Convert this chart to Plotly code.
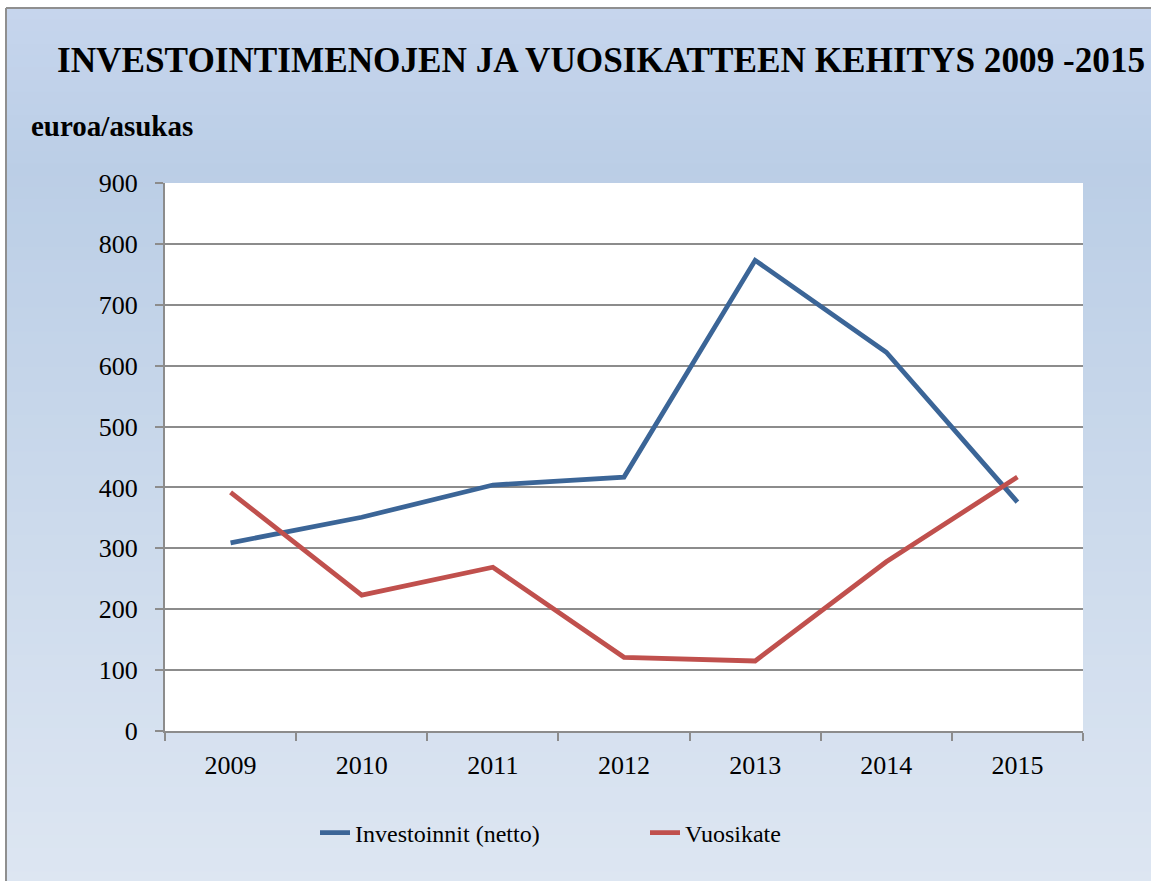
import plotly.graph_objects as go

years = ["2009", "2010", "2011", "2012", "2013", "2014", "2015"]
investoinnit = [309, 351, 404, 417, 773, 622, 376]
vuosikate = [392, 223, 269, 121, 115, 278, 417]
y_ticks = [0, 100, 200, 300, 400, 500, 600, 700, 800, 900]

W, H = 1151, 881
L, R, T, B = 165, 1083, 183, 731  # plot area px

def px_x(x):
    return (x - L) / (R - L)

def px_y(y):
    return (B - y) / (B - T)

def lerp(c1, c2, t):
    return tuple(round(a + (b - a) * t) for a, b in zip(c1, c2))

stops = [(8, (198, 213, 237)), (170, (187, 206, 230)), (881, (221, 230, 242))]

def color_at(y):
    for (y0, c0), (y1, c1) in zip(stops[:-1], stops[1:]):
        if y0 <= y <= y1:
            return lerp(c0, c1, (y - y0) / (y1 - y0))
    return stops[-1][1]

shapes = []
band = 12
y = 8
while y < H:
    y2 = min(y + band, H)
    c = color_at((y + y2) / 2)
    shapes.append(dict(type="rect", xref="paper", yref="paper",
                       x0=px_x(7), x1=px_x(W + 2), y0=px_y(y - 0.5), y1=px_y(y2 + 0.5),
                       fillcolor="rgb(%d,%d,%d)" % c, line=dict(width=0), layer="below"))
    y = y2
# white plot area
shapes.append(dict(type="rect", xref="paper", yref="paper", x0=0, x1=1, y0=0, y1=1,
                   fillcolor="white", line=dict(width=0), layer="below"))
# outer border
shapes.append(dict(type="line", xref="paper", yref="paper", x0=px_x(6), x1=px_x(W + 2),
                   y0=px_y(8), y1=px_y(8), line=dict(color="#8f8f8f", width=2)))
shapes.append(dict(type="line", xref="paper", yref="paper", x0=px_x(6), x1=px_x(6),
                   y0=px_y(8), y1=px_y(H + 2), line=dict(color="#8f8f8f", width=2)))

fig = go.Figure()
fig.add_trace(go.Scatter(x=years, y=investoinnit, mode="lines", name="Investoinnit (netto)",
                         line=dict(color="#3B6597", width=4.8)))
fig.add_trace(go.Scatter(x=years, y=vuosikate, mode="lines", name="Vuosikate",
                         line=dict(color="#C0504D", width=4.8)))

font_family = "Liberation Serif, Times New Roman, serif"
fig.update_layout(
    width=W, height=H,
    margin=dict(l=L, r=W - R, t=T, b=H - B, pad=0),
    paper_bgcolor="white",
    plot_bgcolor="white",
    font=dict(family=font_family, color="black"),
    title=dict(text="<b>INVESTOINTIMENOJEN JA VUOSIKATTEEN KEHITYS 2009 -2015</b>",
               x=57 / W, xanchor="left", xref="container",
               y=1 - 60 / H, yanchor="middle", yref="container",
               font=dict(size=35.2, family=font_family, color="black")),
    shapes=shapes,
    annotations=[dict(text="<b>euroa/asukas</b>", xref="paper", yref="paper",
                      x=px_x(29), y=px_y(126), xanchor="left", yanchor="middle",
                      showarrow=False, font=dict(size=29, family=font_family, color="black"))],
    showlegend=True,
    legend=dict(orientation="h", x=px_x(315), y=px_y(833), xanchor="left", yanchor="middle",
                bgcolor="rgba(0,0,0,0)", font=dict(size=24, family=font_family, color="black"),
                entrywidth=285, entrywidthmode="pixels"),
    xaxis=dict(type="category", range=[-0.5, 6.5], showgrid=False,
               showline=True, linecolor="#8c8c8c", linewidth=2,
               ticks="outside", ticklen=8, tickcolor="#8c8c8c", tickwidth=2,
               tickson="boundaries", ticklabelstandoff=10,
               tickfont=dict(size=26, family=font_family, color="black"), zeroline=False),
    yaxis=dict(range=[0, 900], tickvals=y_ticks, showgrid=True, gridcolor="#8c8c8c", gridwidth=2,
               showline=True, linecolor="#8c8c8c", linewidth=2,
               ticks="outside", ticklen=8, tickcolor="#8c8c8c", tickwidth=2,
               ticklabelstandoff=12, zeroline=False,
               tickfont=dict(size=26, family=font_family, color="black")),
)

fig.write_html("out.html", config={"displayModeBar": False},
               post_script="document.body.style.margin='0';document.body.style.overflow='hidden';")
